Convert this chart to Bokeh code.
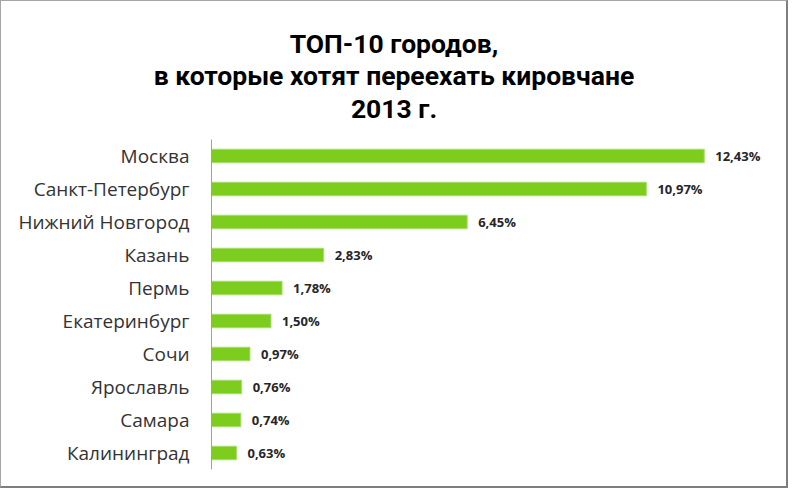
from bokeh.plotting import figure
from bokeh.layouts import column
from bokeh.models import ColumnDataSource, Range1d, FactorRange, LabelSet
from bokeh.core.properties import value
from bokeh.embed import file_html
from bokeh.resources import INLINE

cities = ["Москва", "Санкт-Петербург", "Нижний Новгород", "Казань", "Пермь",
          "Екатеринбург", "Сочи", "Ярославль", "Самара", "Калининград"]
shares = [12.43, 10.97, 6.45, 2.83, 1.78, 1.50, 0.97, 0.76, 0.74, 0.63]
title_lines = ["ТОП-10 городов,", "в которые хотят переехать кировчане", "2013 г."]

labels = [f"{v:.2f}".replace(".", ",") + "%" for v in shares]
src = ColumnDataSource(dict(city=cities, share=shares, label=labels))

TITLE_FONT = "Roboto"
FONT = "Open Sans"
W = 785
TH = 132

# title strip
t = figure(width=W, height=TH, output_backend="svg", toolbar_location=None,
           x_range=Range1d(0, W), y_range=Range1d(TH, 0), min_border=0)
t.frame_align = False
t.axis.visible = False
t.grid.visible = False
t.outline_line_color = None
t.text(x=[W / 2] * 3, y=[42, 73.5, 106.5], text=title_lines, text_align="center",
       text_baseline="alphabetic", text_font=value(TITLE_FONT), text_font_size="26.5px",
       text_font_style="bold", text_color="black")

p = figure(width=W, height=485 - TH, output_backend="svg", toolbar_location=None,
           y_range=FactorRange(factors=list(reversed(cities))),
           x_range=Range1d(0, 14.0),
           min_border_left=210, min_border_right=20, min_border_top=138 - TH,
           min_border_bottom=17)
p.frame_align = False
p.outline_line_color = None
p.xgrid.visible = False
p.ygrid.visible = False
p.xaxis.visible = False

p.hbar(y="city", right="share", left=0, height=0.41, source=src,
       fill_color="#7DCD1E", line_color="#A8DD6E", line_width=1)

ls = LabelSet(x="share", y="city", text="label", source=src, x_offset=11,
              text_baseline="middle", text_font=value(FONT), text_font_size="13px",
              text_font_style="bold", text_color="#262626")
p.add_layout(ls)

ya = p.yaxis[0]
ya.axis_line_color = "#a0a0a0"
ya.axis_line_width = 1
ya.major_tick_line_color = None
ya.minor_tick_line_color = None
ya.major_tick_out = 0
ya.major_tick_in = 0
ya.major_label_standoff = 22
ya.major_label_text_font = FONT
ya.major_label_text_font_size = "19px"
ya.major_label_text_color = "#333333"

layout = column(t, p, spacing=0,
                styles={"border-top": "1px solid #a6a6a6", "border-left": "1px solid #a6a6a6",
                        "border-right": "2px solid #7f7f7f", "border-bottom": "2px solid #7f7f7f",
                        "background-color": "white"})

open("out.html", "w").write(file_html(layout, INLINE))
